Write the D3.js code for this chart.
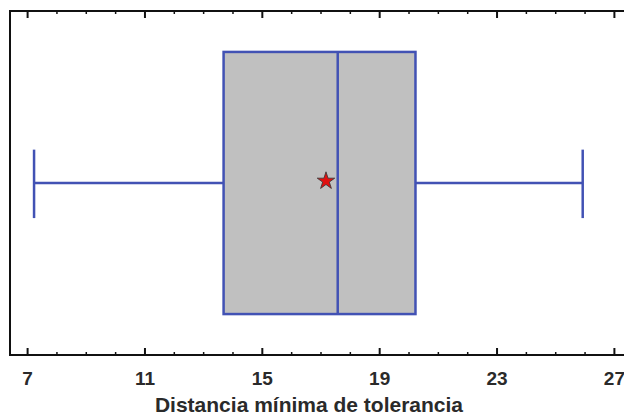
<!DOCTYPE html>
<html>
<head>
<meta charset="utf-8">
<script src="https://cdn.jsdelivr.net/npm/d3@7"></script>
<style>
  body { margin: 0; background: #fff; }
  svg { display: block; }
</style>
</head>
<body>
<div id="chart"></div>
<script>
// box plot summary
const stats = { min: 7.22, q1: 13.68, median: 17.57, q3: 20.22, max: 25.92, mean: 17.17 };
const majorTicks = [7, 11, 15, 19, 23, 27];
const minorTicks = d3.range(7, 28, 1);
const xTitle = 'Distancia mínima de tolerancia';

const width = 624, height = 416;
const frame = { left: 10, top: 11, bottom: 355 };
const blue = '#4252b4';

const svg = d3.select('#chart').append('svg')
    .attr('width', width)
    .attr('height', height);

const x = d3.scaleLinear().domain([6.4, 27.6]).range([frame.left, 632]);
const y = d3.scaleLinear().domain([0, 1]).range([frame.bottom, frame.top]);

// frame: left, top, bottom lines (right side runs off the picture)
svg.append('path')
    .attr('d', `M${x.range()[1]},${frame.top}H${frame.left}V${frame.bottom}H${x.range()[1]}`)
    .attr('fill', 'none')
    .attr('stroke', '#111')
    .attr('stroke-width', 2);

// ticks pointing inward on top and bottom
function ticks(yPos, dir) {
    svg.selectAll(null)
        .data(minorTicks)
        .enter().append('line')
        .attr('x1', d => x(d)).attr('x2', d => x(d))
        .attr('y1', yPos)
        .attr('y2', d => yPos + dir * (majorTicks.includes(d) ? 7 : 3))
        .attr('stroke', '#111')
        .attr('stroke-width', d => majorTicks.includes(d) ? 2 : 1.5);
}
ticks(frame.top, 1);
ticks(frame.bottom, -1);

svg.selectAll('.tick-label')
    .data(majorTicks)
    .enter().append('text')
    .attr('class', 'tick-label')
    .attr('x', d => x(d))
    .attr('y', 385)
    .attr('text-anchor', 'middle')
    .attr('font-family', 'Liberation Sans, Arial, sans-serif')
    .attr('font-size', 19)
    .attr('font-weight', 'bold')
    .attr('fill', '#2a2a2a')
    .text(d => d);

svg.append('text')
    .attr('x', 309)
    .attr('y', 412)
    .attr('text-anchor', 'middle')
    .attr('font-family', 'Liberation Sans, Arial, sans-serif')
    .attr('font-size', 21)
    .attr('font-weight', 'bold')
    .attr('fill', '#2a2a2a')
    .text(xTitle);

// box geometry (vertical fractions of the frame)
const boxTop = y(0.881), boxBot = y(0.119);
const capTop = y(0.597), capBot = y(0.398);
const midY = y(0.5);

// whiskers
svg.append('line')
    .attr('x1', x(stats.min)).attr('x2', x(stats.q1))
    .attr('y1', midY).attr('y2', midY)
    .attr('stroke', blue).attr('stroke-width', 2.5);
svg.append('line')
    .attr('x1', x(stats.q3)).attr('x2', x(stats.max))
    .attr('y1', midY).attr('y2', midY)
    .attr('stroke', blue).attr('stroke-width', 2.5);
[stats.min, stats.max].forEach(v => {
    svg.append('line')
        .attr('x1', x(v)).attr('x2', x(v))
        .attr('y1', capTop).attr('y2', capBot)
        .attr('stroke', blue).attr('stroke-width', 2.5);
});

// box
svg.append('rect')
    .attr('x', x(stats.q1))
    .attr('y', boxTop)
    .attr('width', x(stats.q3) - x(stats.q1))
    .attr('height', boxBot - boxTop)
    .attr('fill', '#c0c0c0')
    .attr('stroke', blue)
    .attr('stroke-width', 2.5);

svg.append('line')
    .attr('x1', x(stats.median)).attr('x2', x(stats.median))
    .attr('y1', boxTop).attr('y2', boxBot)
    .attr('stroke', blue).attr('stroke-width', 2.5);

// mean marker
svg.append('path')
    .attr('d', d3.symbol(d3.symbolStar, 95)())
    .attr('transform', `translate(${x(stats.mean)},${midY - 2})`)
    .attr('fill', '#e01010')
    .attr('stroke', '#333')
    .attr('stroke-width', 0.8);
</script>
</body>
</html>
